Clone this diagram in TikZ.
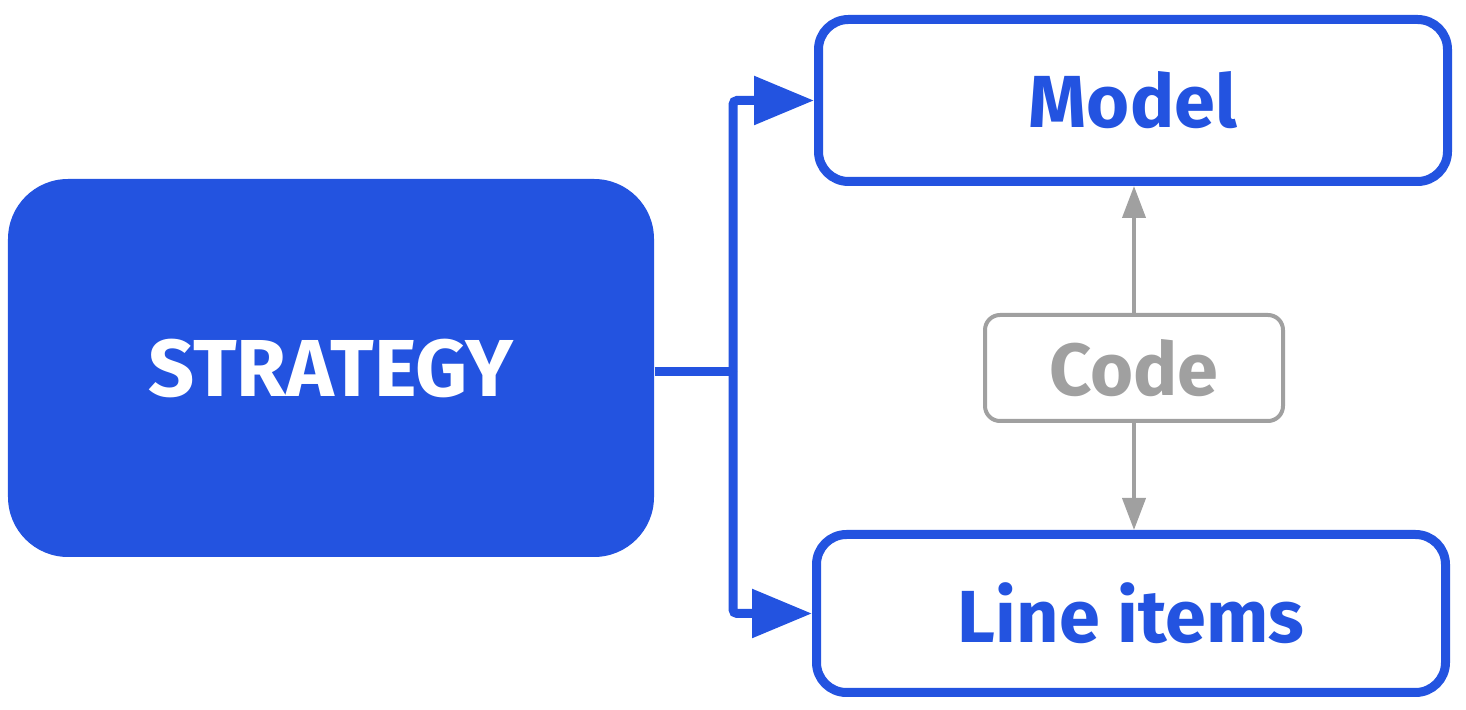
\documentclass[tikz,border=0pt]{standalone}
\usepackage{fontspec}
\setmainfont{Fira Sans}
\usetikzlibrary{arrows.meta}
\definecolor{stratblue}{RGB}{35,83,224}
\definecolor{codegray}{RGB}{160,160,160}
\tikzset{
    bluebox/.style={draw=stratblue, line width=0.09cm, rounded corners=0.3cm, text=stratblue, font=\fontsize{21}{25}\selectfont\bfseries},
    bluelink/.style={draw=stratblue, line width=0.09cm, rounded corners=0.04cm, -{Triangle[length=0.6cm,width=0.47cm]}},
    graylink/.style={draw=codegray, line width=0.04cm, -{Triangle[length=0.32cm,width=0.23cm]}},
}

\begin{document}
\begin{tikzpicture}
        \useasboundingbox (0, 0) rectangle (14.66, 7.10);

        \node[fill=stratblue, rounded corners=0.6cm, minimum width=6.46cm, minimum height=3.78cm, text=white, font=\fontsize{23}{27}\selectfont\bfseries] (strategy) at (3.31, 3.42) {STRATEGY};
        \node[bluebox, minimum width=6.29cm, minimum height=1.62cm] (model) at (11.33, 6.095) {Model};
        \node[bluebox, minimum width=6.29cm, minimum height=1.58cm] (items) at (11.31, 0.965) {Line items};
        \node[draw=codegray, line width=0.04cm, rounded corners=0.15cm, minimum width=2.98cm, minimum height=1.06cm, text=codegray, font=\fontsize{21}{25}\selectfont\bfseries] (code) at (11.34, 3.42) {Code};

        \coordinate (split) at (7.33, 3.38);
        \draw[stratblue, line width=0.09cm] (strategy.east |- split) -- (split);
        \draw[bluelink] (split) |- (model.west);
        \draw[bluelink] (split) |- (items.west);

        \draw[graylink] (code.north) -- (code.north |- model.south);
        \draw[graylink] (code.south) -- (code.south |- items.north);
    \end{tikzpicture}
\end{document}
